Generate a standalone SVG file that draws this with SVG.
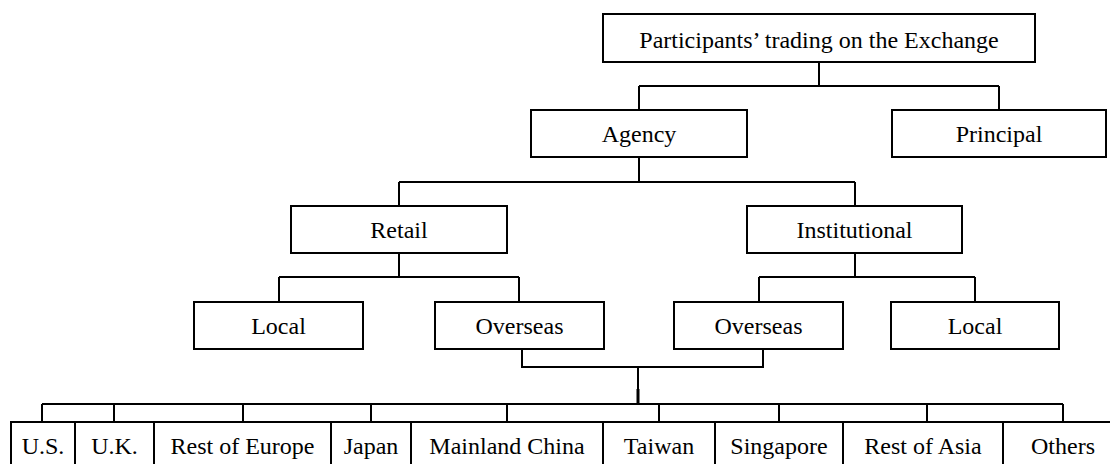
<svg xmlns="http://www.w3.org/2000/svg" width="1110" height="464" viewBox="0 0 1110 464">
<style>
rect{fill:#fff;stroke:#000;stroke-width:2}
text{font-family:"Liberation Serif","Times New Roman",serif;font-size:24px;fill:#000;text-anchor:middle}
.c path{fill:none;stroke:#000;stroke-width:2}
</style>
<rect x="0" y="0" width="1110" height="464" style="stroke:none"/>
<g class="c" id="connectors">
<path d="M819 62V86M639 86H999M639 86V110M999 86V110"/>
<path d="M639 157V182M399 182H855M399 182V206M855 182V206"/>
<path d="M399 253V277M279 277H519M279 277V302M519 277V302"/>
<path d="M855 253V277M759 277H975M759 277V302M975 277V302"/>
<path d="M522 349V367H763V349"/>
<path d="M638 367V404"/>
<path d="M638 389V404" style="stroke-width:3"/>
<path d="M42 404H1063"/>
<path d="M42 404V422M114 404V422M243 404V422M371 404V422M507 404V422M659 404V422M779 404V422M927 404V422M1063 404V422"/>
</g>
<g id="n-top"><rect x="603" y="14" width="432" height="48"/><text x="819" y="48">Participants’ trading on the Exchange</text></g>
<g id="n-agency"><rect x="531" y="110" width="216" height="47"/><text x="639" y="141.5">Agency</text></g>
<g id="n-principal"><rect x="892" y="110" width="214" height="47"/><text x="999" y="141.5">Principal</text></g>
<g id="n-retail"><rect x="291" y="206" width="216" height="47"/><text x="399" y="238">Retail</text></g>
<g id="n-institutional"><rect x="747" y="206" width="215" height="47"/><text x="854.5" y="238">Institutional</text></g>
<g id="n-local-l"><rect x="194" y="302" width="169" height="47"/><text x="278.5" y="334">Local</text></g>
<g id="n-overseas-l"><rect x="435" y="302" width="169" height="47"/><text x="519.5" y="334">Overseas</text></g>
<g id="n-overseas-r"><rect x="674" y="302" width="169" height="47"/><text x="758.5" y="334">Overseas</text></g>
<g id="n-local-r"><rect x="891" y="302" width="168" height="47"/><text x="975" y="334">Local</text></g>
<g id="n-us"><rect x="11" y="422" width="64" height="50"/><text x="43" y="454">U.S.</text></g>
<g id="n-uk"><rect x="75" y="422" width="79" height="50"/><text x="114.5" y="454">U.K.</text></g>
<g id="n-roe"><rect x="154" y="422" width="177" height="50"/><text x="242.5" y="454">Rest of Europe</text></g>
<g id="n-japan"><rect x="331" y="422" width="80" height="50"/><text x="371" y="454">Japan</text></g>
<g id="n-china"><rect x="411" y="422" width="192" height="50"/><text x="507" y="454">Mainland China</text></g>
<g id="n-taiwan"><rect x="603" y="422" width="112" height="50"/><text x="659" y="454">Taiwan</text></g>
<g id="n-singapore"><rect x="715" y="422" width="128" height="50"/><text x="779" y="454">Singapore</text></g>
<g id="n-roa"><rect x="843" y="422" width="160" height="50"/><text x="923" y="454">Rest of Asia</text></g>
<g id="n-others"><rect x="1003" y="422" width="125" height="50"/><text x="1063" y="454">Others</text></g>
</svg>
